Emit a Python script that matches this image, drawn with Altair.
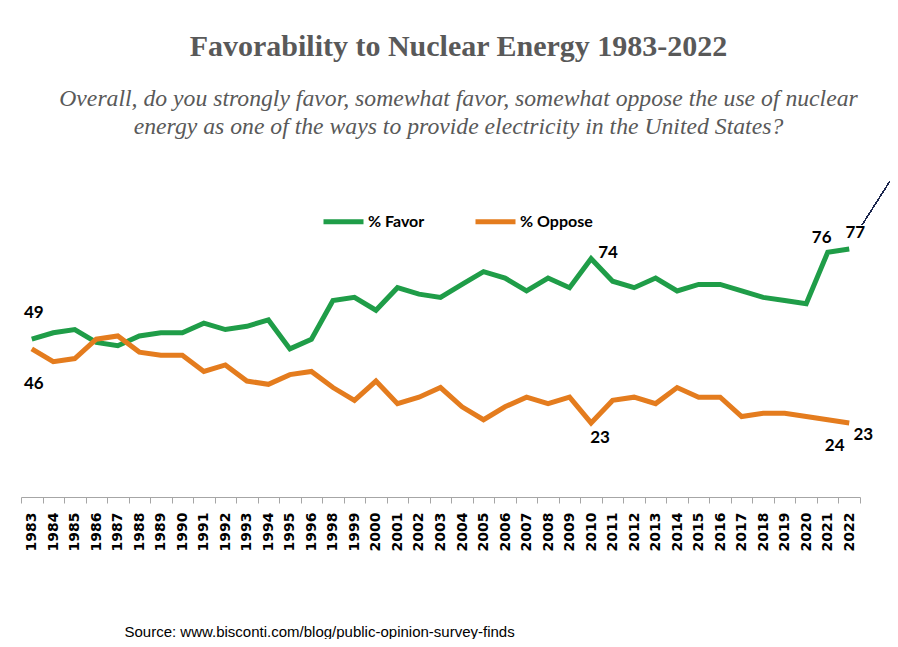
import altair as alt
import pandas as pd

years = [str(y) for y in list(range(1983, 1997)) + list(range(1998, 2023))]
favor = [49, 51, 52, 48, 47, 50, 51, 51, 54, 52, 53, 55, 46, 49,
         61, 62, 58, 65, 63, 62,
         66, 70, 68, 64, 68, 65, 74,
         67, 65, 68, 64, 66, 66, 64, 62, 61, 60, 76, 77]
oppose = [46, 42, 43, 49, 50, 45, 44, 44, 39, 41, 36, 35, 38, 39,
          34, 30, 36, 29, 31, 34,
          28, 24, 28, 31, 29, 31, 23,
          30, 31, 29, 34, 31, 31, 25, 26, 26, 25, 24, 23]
series_names = ["% Favor", "% Oppose"]
series_colors = ["#1f9d48", "#e47c1e"]

# which points carry a value label
label_points = [("1983", "% Favor"), ("1983", "% Oppose"),
                ("2010", "% Favor"), ("2010", "% Oppose"),
                ("2021", "% Favor"), ("2022", "% Favor"),
                ("2021", "% Oppose"), ("2022", "% Oppose")]
# pixel offsets for those labels (style, not data)
label_offsets = [(2, -26), (2, 35), (17, -6), (9, 15),
                 (-6, -14), (6, -16), (7, 26), (14, 12)]

df = pd.DataFrame({
    "Year": years * 2,
    "Series": [series_names[0]] * len(years) + [series_names[1]] * len(years),
    "Value": favor + oppose,
})

W, H = 839, 322

x_enc = alt.X("Year:O", sort=years,
              scale=alt.Scale(type="band", paddingInner=0, paddingOuter=0),
              axis=alt.Axis(title="Source: www.bisconti.com/blog/public-opinion-survey-finds",
                            titleFont="Liberation Sans", titleFontSize=15,
                            titleFontWeight="normal", titleColor="#000000",
                            titleAnchor="start", titleAlign="left",
                            titleBaseline="middle", titleX=103, titleY=134,
                            labelAngle=270, labelFont="DejaVu Sans",
                            labelFontWeight="bold", labelFontSize=14,
                            labelColor="#000000", labelPadding=9,
                            tickBand="extent", tickSize=6, tickColor="#a6a6a6",
                            domainColor="#a6a6a6", domainWidth=1, grid=False))
y_enc = alt.Y("Value:Q", scale=alt.Scale(domain=[0, 100]), axis=None)

lines = alt.Chart(df).mark_line(strokeWidth=5, strokeJoin="miter").encode(
    x=x_enc,
    y=y_enc,
    color=alt.Color("Series:N",
                    scale=alt.Scale(domain=series_names, range=series_colors),
                    legend=alt.Legend(title=None, orient="none", direction="horizontal",
                                      legendX=300, legendY=24,
                                      symbolType="stroke", symbolSize=1600,
                                      symbolStrokeWidth=5, labelFont="Lato",
                                      labelFontWeight="bold", labelFontSize=16,
                                      labelColor="#000000", labelOffset=2,
                                      columnPadding=40)),
)

layers = [lines]
for (yr, sr), (dx, dy) in zip(label_points, label_offsets):
    layers.append(
        alt.Chart(df).transform_filter(
            (alt.datum.Year == yr) & (alt.datum.Series == sr)
        ).mark_text(font="Lato", fontWeight="bold", fontSize=17, color="#000000",
                    dx=dx, dy=dy).encode(
            x=x_enc, y=y_enc, text=alt.Text("Value:Q", format="d"))
    )

stray = alt.Chart(df).mark_rule(color="#1f2a50", strokeWidth=1).encode(
    x=alt.value(841), x2=alt.value(869), y=alt.value(50), y2=alt.value(6))
layers.append(stray)

chart = alt.layer(*layers).properties(
    width=W, height=H,
    background="white",
    title=alt.TitleParams(
        text="Favorability to Nuclear Energy 1983-2022",
        subtitle=["Overall, do you strongly favor, somewhat favor, somewhat oppose the use of nuclear",
                  "energy as one of the ways to provide electricity in the United States?"],
        font="Liberation Serif", fontSize=30, fontWeight="bold", color="#595959",
        subtitleFont="Liberation Serif", subtitleFontSize=23.7, subtitleFontStyle="italic",
        subtitleColor="#595959", subtitleLineHeight=28, subtitlePadding=25,
        anchor="middle", frame="group", dx=18, offset=36),
    autosize=alt.AutoSizeParams(type="none"),
    padding={"left": 13, "top": 167, "right": 30, "bottom": 142},
).configure_view(stroke=None)

chart.save("out.html", embed_options={"renderer": "svg", "actions": False})
